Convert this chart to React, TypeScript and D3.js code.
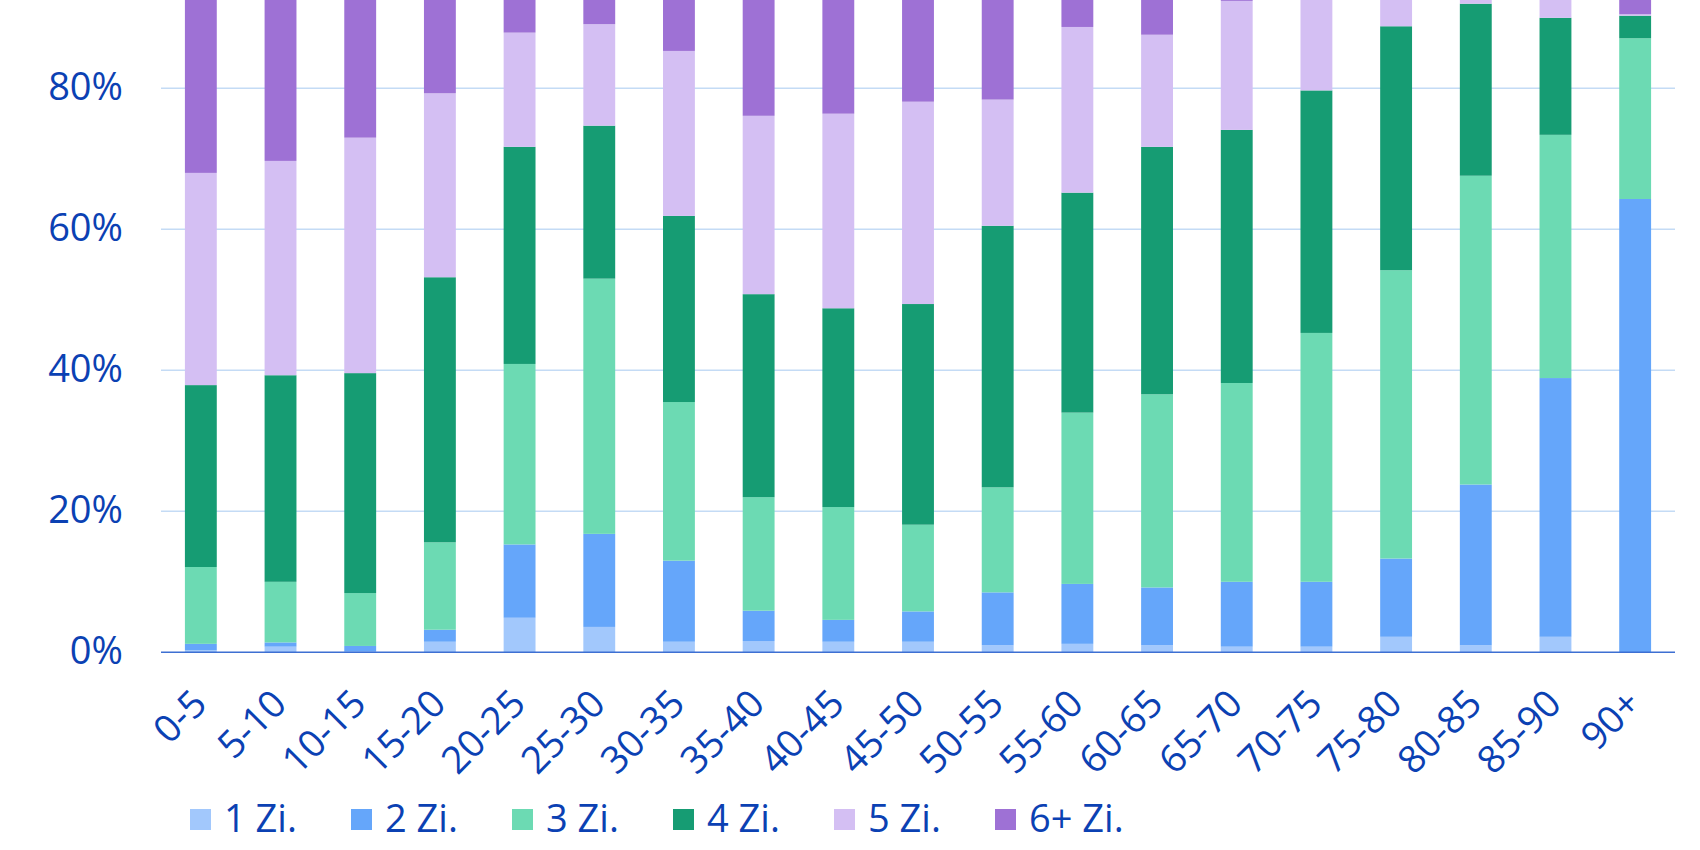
import React from "react";
import * as d3 from "d3";

const categories = ["0-5","5-10","10-15","15-20","20-25","25-30","30-35","35-40","40-45","45-50","50-55","55-60","60-65","65-70","70-75","75-80","80-85","85-90","90+"];
const seriesNames = ["1 Zi.","2 Zi.","3 Zi.","4 Zi.","5 Zi.","6+ Zi."];
const seriesColors = ["#a2c8fc","#65a6fa","#6cdab3","#169c73","#d4bff3","#9e71d5"];

const zi1 = [0.3,0.8,0.1,1.5,4.9,3.6,1.5,1.6,1.5,1.5,1.0,1.2,1.0,0.8,0.8,2.2,1.0,2.2,0.0];
const zi2 = [0.9,0.6,0.8,1.7,10.4,13.2,11.5,4.3,3.1,4.3,7.5,8.5,8.2,9.2,9.2,11.1,22.8,36.7,64.3];
const zi3 = [10.9,8.6,7.5,12.4,25.6,36.2,22.5,16.1,16.0,12.3,14.9,24.3,27.4,28.2,35.3,40.9,43.8,34.5,22.8];
const zi4 = [25.8,29.3,31.2,37.6,30.8,21.7,26.4,28.8,28.2,31.3,37.1,31.2,35.1,35.9,34.4,34.6,24.4,16.6,3.2];
const zi5 = [30.1,30.4,33.4,26.1,16.2,14.4,23.4,25.3,27.6,28.7,17.9,23.5,15.9,18.3,15.3,7.4,3.5,4.0,0.2];
const zi6 = [32.0,30.3,27.0,20.7,12.1,10.9,14.7,23.9,23.6,21.9,21.6,11.3,12.4,7.6,5.0,3.8,4.5,6.0,9.5];

const yTicks = [0, 0.2, 0.4, 0.6, 0.8, 1.0];

const W = 1700;
const H = 850;
const FONT = "'Open Sans', 'Noto Sans', sans-serif";
const TEXT_COLOR = "#0b41b3";

export default function App() {
  const seriesData = [zi1, zi2, zi3, zi4, zi5, zi6];
  const rows = categories.map((c, i) => {
    const r: Record<string, any> = { cat: c };
    seriesNames.forEach((s, k) => (r[s] = seriesData[k][i] / 100));
    return r;
  });
  const stacked = d3.stack<any>().keys(seriesNames)(rows);

  const x = d3
    .scaleBand<string>()
    .domain(categories)
    .range([161, 1675])
    .paddingInner(0.6)
    .paddingOuter(0.3);
  const y = d3.scaleLinear().domain([0, 1]).range([652.3, -52.7]);
  const fmt = d3.format(".0%");
  const visibleTicks = yTicks.filter((t) => y(t) - 20 > 0);

  return (
    <div style={{ position: "absolute", left: 0, top: 0 }}>
      <svg width={W} height={H} style={{ display: "block", background: "#fff" }}>
        {yTicks.filter((t) => t > 0).map((t) => (
          <line key={"g" + t} x1={161} x2={1675} y1={y(t)} y2={y(t)} stroke="#c4dbf5" strokeWidth={1.5} />
        ))}
        {stacked.map((layer, k) => (
          <g key={layer.key} fill={seriesColors[k]}>
            {layer.map((d, i) => (
              <rect
                key={i}
                x={x(categories[i])}
                width={x.bandwidth()}
                y={y(d[1])}
                height={Math.max(0, y(d[0]) - y(d[1]))}
              />
            ))}
          </g>
        ))}
        <line x1={161} x2={1675} y1={y(0)} y2={y(0)} stroke="#3d6fd2" strokeWidth={1.6} />
        {visibleTicks.map((t) => (
          <text
            key={"yl" + t}
            x={123}
            y={y(t) + 12}
            textAnchor="end"
            fontFamily={FONT}
            fontSize={38}
            fill={TEXT_COLOR}
          >
            {fmt(t)}
          </text>
        ))}
        {categories.map((c) => {
          const cx = (x(c) as number) + x.bandwidth() / 2 + 8;
          const cy = 706;
          return (
            <text
              key={"xl" + c}
              x={cx}
              y={cy}
              textAnchor="end"
              transform={`rotate(-45 ${cx} ${cy})`}
              fontFamily={FONT}
              fontSize={38}
              fill={TEXT_COLOR}
            >
              {c}
            </text>
          );
        })}
        {seriesNames.map((s, k) => (
          <g key={"lg" + s} transform={`translate(${190 + 161 * k}, 809)`}>
            <rect width={21} height={21} fill={seriesColors[k]} />
            <text x={34} y={23} fontFamily={FONT} fontSize={38} fill={TEXT_COLOR}>
              {s}
            </text>
          </g>
        ))}
      </svg>
    </div>
  );
}
